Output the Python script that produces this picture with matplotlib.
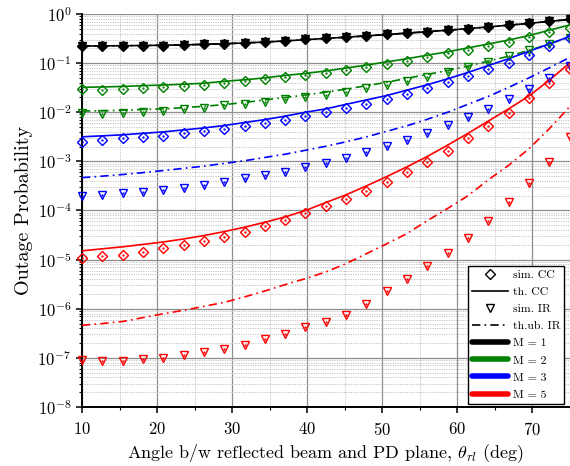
import numpy as np
import matplotlib
matplotlib.use('Agg')
import matplotlib.pyplot as plt
from matplotlib.lines import Line2D
from matplotlib.ticker import LogLocator, NullFormatter, MultipleLocator

# Fonts (LaTeX look)
plt.rcParams['font.family'] = 'serif'
plt.rcParams['font.serif'] = ['cmr10', 'DejaVu Serif']
plt.rcParams['mathtext.fontset'] = 'cm'
plt.rcParams['axes.formatter.use_mathtext'] = True

# Angle between reflected beam and PD plane (deg), 25 simulated points
angle = np.linspace(10, 75, 25)

# M = 1
sim_cc_m1 = [0.223, 0.223, 0.226, 0.226, 0.228, 0.234, 0.241, 0.249, 0.261, 0.269, 0.286, 0.305, 0.330,
             0.340, 0.362, 0.385, 0.410, 0.430, 0.465, 0.503, 0.552, 0.606, 0.656, 0.720, 0.778]
th_cc_m1 = [0.223, 0.224, 0.226, 0.228, 0.231, 0.235, 0.241, 0.248, 0.257, 0.268, 0.283, 0.300, 0.318,
            0.337, 0.358, 0.382, 0.408, 0.436, 0.467, 0.503, 0.545, 0.592, 0.645, 0.705, 0.775]

# M = 2
sim_cc_m2 = [0.0292, 0.0283, 0.0292, 0.0311, 0.0321, 0.0342, 0.0364, 0.0399, 0.0432, 0.0474, 0.0521, 0.0573,
             0.0638, 0.0723, 0.082, 0.0944, 0.110, 0.131, 0.158, 0.185, 0.226, 0.273, 0.345, 0.424, 0.51]
th_cc_m2 = [0.0321, 0.0327, 0.0335, 0.0347, 0.0358, 0.0372, 0.0389, 0.0427, 0.0457, 0.0501, 0.0562, 0.0617,
            0.0692, 0.0794, 0.0912, 0.106, 0.123, 0.145, 0.170, 0.204, 0.245, 0.295, 0.363, 0.468, 0.597]
sim_ir_m2 = [0.00948, 0.00905, 0.00948, 0.00994, 0.01057, 0.01143, 0.01236, 0.0138, 0.0147, 0.0164, 0.0183,
             0.0201, 0.0224, 0.0262, 0.0306, 0.0358, 0.0432, 0.0530, 0.0670, 0.0846, 0.107, 0.140, 0.185,
             0.245, 0.33]
th_ir_m2 = [0.0106, 0.0107, 0.0110, 0.0114, 0.0117, 0.0124, 0.0132, 0.0143, 0.0158, 0.0178, 0.0200, 0.0224,
            0.0257, 0.0295, 0.0347, 0.0407, 0.0490, 0.0589, 0.0708, 0.0871, 0.110, 0.138, 0.182, 0.245, 0.339]

# M = 3
sim_cc_m3 = [0.00251, 0.00272, 0.00294, 0.00318, 0.00333, 0.00371, 0.00408, 0.00455, 0.00524, 0.00593,
             0.00694, 0.00837, 0.00994, 0.0122, 0.0149, 0.0186, 0.0235, 0.0311, 0.0412, 0.0546, 0.0747,
             0.102, 0.149, 0.223, 0.32]
th_cc_m3 = [0.00316, 0.00331, 0.00347, 0.00372, 0.00398, 0.00437, 0.00479, 0.00537, 0.00617, 0.00708,
            0.00832, 0.0100, 0.0117, 0.0145, 0.0178, 0.0219, 0.0282, 0.0363, 0.0479, 0.0646, 0.0891,
            0.123, 0.174, 0.245, 0.347]
sim_ir_m3 = [2.00e-4, 2.06e-4, 2.23e-4, 2.41e-4, 2.60e-4, 2.90e-4, 3.29e-4, 3.85e-4, 4.50e-4, 5.26e-4,
             6.15e-4, 7.54e-4, 9.38e-4, 1.19e-3, 1.55e-3, 2.08e-3, 2.72e-3, 3.83e-3, 5.48e-3, 8.0e-3,
             1.17e-2, 1.85e-2, 2.98e-2, 4.95e-2, 8.6e-2]
th_ir_m3 = [4.66e-4, 5.0e-4, 5.4e-4, 5.9e-4, 6.5e-4, 7.2e-4, 8.0e-4, 9.1e-4, 1.03e-3, 1.2e-3, 1.4e-3,
            1.68e-3, 2.03e-3, 2.5e-3, 3.15e-3, 4.1e-3, 5.3e-3, 7.2e-3, 1.0e-2, 1.45e-2, 2.1e-2, 3.2e-2,
            5.0e-2, 8.0e-2, 0.13]

# M = 5
sim_cc_m5 = [1.06e-5, 1.18e-5, 1.27e-5, 1.42e-5, 1.69e-5, 2.00e-5, 2.38e-5, 2.92e-5, 3.69e-5, 4.89e-5,
             6.4e-5, 8.71e-5, 1.23e-4, 1.71e-4, 2.52e-4, 3.85e-4, 6.05e-4, 9.53e-4, 1.65e-3, 2.94e-3,
             5.24e-3, 9.79e-3, 1.92e-2, 3.99e-2, 7.5e-2]
th_cc_m5 = [1.51e-5, 1.66e-5, 1.82e-5, 2.04e-5, 2.29e-5, 2.63e-5, 3.09e-5, 3.72e-5, 4.57e-5, 5.75e-5,
            7.41e-5, 1.0e-4, 1.45e-4, 2.09e-4, 3.16e-4, 4.9e-4, 7.76e-4, 1.26e-3, 2.14e-3, 3.72e-3,
            6.61e-3, 1.17e-2, 2.14e-2, 4.47e-2, 0.1]
sim_ir_m5 = [8.98e-8, 8.57e-8, 8.57e-8, 9.27e-8, 1.0e-7, 1.17e-7, 1.33e-7, 1.55e-7, 1.82e-7, 2.37e-7,
             3.08e-7, 4.22e-7, 5.33e-7, 7.52e-7, 1.26e-6, 2.25e-6, 3.94e-6, 7.38e-6, 1.37e-5, 2.82e-5,
             6.18e-5, 1.46e-4, 3.67e-4, 9.84e-4, 3.18e-3]
th_ir_m5 = [4.6e-7, 5.0e-7, 5.5e-7, 6.6e-7, 7.9e-7, 9.3e-7, 1.12e-6, 1.35e-6, 1.74e-6, 2.3e-6, 3.1e-6,
            4.1e-6, 5.6e-6, 8.3e-6, 1.32e-5, 2.1e-5, 3.4e-5, 6.2e-5, 1.1e-4, 2.0e-4, 4.2e-4, 8.3e-4,
            1.8e-3, 4.6e-3, 1.29e-2]

series = [
    ('k', 'M = 1', sim_cc_m1, th_cc_m1, sim_cc_m1, th_cc_m1),
    ('g', 'M = 2', sim_cc_m2, th_cc_m2, sim_ir_m2, th_ir_m2),
    ('b', 'M = 3', sim_cc_m3, th_cc_m3, sim_ir_m3, th_ir_m3),
    ('r', 'M = 5', sim_cc_m5, th_cc_m5, sim_ir_m5, th_ir_m5),
]

DASHDOT = (0, (5, 2.5, 1, 2.5))

fig = plt.figure(figsize=(5.70, 4.66), dpi=100)
ax = fig.add_axes([0.1439, 0.1266, 0.8553, 0.8434])

for color, name, s_cc, t_cc, s_ir, t_ir in series:
    face = color if color == 'k' else 'none'
    ax.plot(angle, t_cc, color=color, lw=1.2, zorder=3)
    ax.plot(angle, t_ir, color=color, lw=1.2, linestyle=DASHDOT, zorder=3)
    ax.plot(angle, s_cc, linestyle='none', marker='D', ms=4.6, mew=1.0,
            mec=color, mfc=face, zorder=4, clip_on=False)
    ax.plot(angle, s_ir, linestyle='none', marker='v', ms=6.3, mew=1.0,
            mec=color, mfc=face, zorder=4, clip_on=False)
    # small dot in the middle of each open marker
    ax.plot(angle, s_cc, linestyle='none', marker='.', ms=1.3, color=color, zorder=5)
    ax.plot(angle, s_ir, linestyle='none', marker='.', ms=1.3, color=color, zorder=5)

ax.set_yscale('log')
ax.set_xlim(10, 75)
ax.set_ylim(1e-8, 1)

ax.xaxis.set_major_locator(MultipleLocator(10))
ax.xaxis.set_minor_locator(MultipleLocator(5))
ax.yaxis.set_major_locator(LogLocator(base=10, numticks=100))
ax.yaxis.set_minor_locator(LogLocator(base=10, subs=np.arange(2, 10), numticks=100))
ax.yaxis.set_minor_formatter(NullFormatter())

ax.grid(True, which='major', color='#8f8f8f', lw=0.9, linestyle='-')
ax.grid(True, which='minor', color='#c4c4c4', lw=0.7, linestyle=(0, (1.2, 1.2)))
ax.set_axisbelow(True)

ax.tick_params(which='both', direction='out', labelsize=12, color='k')
ax.tick_params(which='major', length=4, width=1.1)
ax.tick_params(which='minor', length=2.5, width=0.8)
ax.tick_params(axis='x', which='major', pad=6)

ax.spines['top'].set_visible(False)
ax.spines['right'].set_visible(False)
ax.spines['left'].set_linewidth(1.4)
ax.spines['bottom'].set_linewidth(1.4)

ax.set_ylabel('Outage Probability', fontsize=14.5, labelpad=3)
ax.set_xlabel(r'Angle b/w reflected beam and PD plane, $\theta_{rl}$ (deg)', fontsize=13, labelpad=3)

# Legend
handles = [
    Line2D([], [], linestyle='none', marker='D', ms=4.6, mew=1.0, mec='k', mfc='none'),
    Line2D([], [], color='k', lw=1.2),
    Line2D([], [], linestyle='none', marker='v', ms=6.3, mew=1.0, mec='k', mfc='none'),
    Line2D([], [], color='k', lw=1.2, linestyle=DASHDOT),
]
labels = ['sim. CC', 'th. CC', 'sim. IR', 'th.ub. IR']
for color, name, *_ in series:
    handles.append(Line2D([], [], color=color, lw=4, solid_capstyle='round'))
    labels.append(name)

leg = ax.legend(handles, labels, loc='lower right', bbox_to_anchor=(0.989, 0.008), borderaxespad=0,
                fontsize=8.5, handlelength=3.1, handletextpad=0.35, borderpad=0.35, labelspacing=0.58,
                fancybox=False, framealpha=1, edgecolor='k', numpoints=1)
leg.get_frame().set_linewidth(1.0)
leg.set_zorder(10)

fig.savefig('out.png', dpi=100)
